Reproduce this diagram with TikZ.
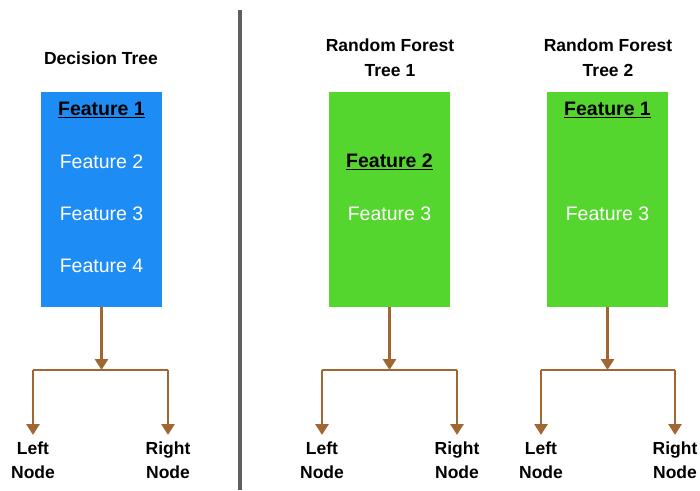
\documentclass[tikz,border=0pt]{standalone}
\usepackage{fontspec}
\setmainfont{Liberation Sans}
\usetikzlibrary{arrows.meta}
\definecolor{dtblue}{RGB}{30,140,245}
\definecolor{rfgreen}{RGB}{85,214,46}
\definecolor{branch}{RGB}{160,103,50}
\definecolor{divgray}{RGB}{95,95,95}
\tikzset{
  title/.style={font=\bfseries\fontsize{17.5}{25}\selectfont, align=center, inner sep=0pt},
  dtbox/.style={fill=dtblue, minimum width=121pt, minimum height=215pt, inner sep=0pt},
  rfbox/.style={fill=rfgreen, minimum width=121pt, minimum height=215pt, inner sep=0pt},
  feat/.style={text=white, font=\fontsize{19.5}{22}\selectfont, inner sep=0pt},
  featsel/.style={text=black, font=\bfseries\fontsize{19.5}{22}\selectfont, inner sep=0pt},
  leaf/.style={font=\bfseries\fontsize{17.5}{24}\selectfont, align=center, anchor=north, inner sep=0pt},
  conn/.style={draw=branch, line width=2.8pt},
  arr/.style={conn, -{Triangle[length=11pt,width=13pt]}},
  divider/.style={draw=divgray, line width=3.5pt}
}
\newcommand{\featul}[1]{\underline{#1}}
\begin{document}
\begin{tikzpicture}[x=1pt, y=-1pt]
  \useasboundingbox (0,0) rectangle (700,490);

  % separator between the single tree and the forest
  \draw[divider] (240,10) -- (240,490);

  % ---- Decision tree ----
  \node[title] (dtt) at (101,58) {Decision Tree};
  \node[dtbox] (dt) at (101.5,199.5) {};
  \node[featsel] (dtf1) at (101.5,110) {\featul{Feature 1}};
  \node[feat] (dtf2) at (101.5,162) {Feature 2};
  \node[feat] (dtf3) at (101.5,214) {Feature 3};
  \node[feat] (dtf4) at (101.5,266) {Feature 4};
  \coordinate (dtj) at (101.5,370);
  \coordinate (dtl) at (33,370);
  \coordinate (dtr) at (168,370);
  \node[leaf] (dtln) at (33,442) {Left\\Node};
  \node[leaf] (dtrn) at (168,442) {Right\\Node};
  \draw[arr] (dt.south) -- (dtj);
  \draw[conn] (dtl) -- (dtr);
  \draw[arr] (dtl) -- ([yshift=7pt]dtln.north);
  \draw[arr] (dtr) -- ([yshift=7pt]dtrn.north);

  % ---- Random forest, tree 1 ----
  \node[title] (rt1) at (390,57.5) {Random Forest\\Tree 1};
  \node[rfbox] (rf1) at (389.5,199.5) {};
  \node[featsel] (rf1f2) at (389.5,162) {\featul{Feature 2}};
  \node[feat] (rf1f3) at (389.5,214) {Feature 3};
  \coordinate (rf1j) at (389.5,370);
  \coordinate (rf1l) at (322,370);
  \coordinate (rf1r) at (457,370);
  \node[leaf] (rf1ln) at (322,442) {Left\\Node};
  \node[leaf] (rf1rn) at (457,442) {Right\\Node};
  \draw[arr] (rf1.south) -- (rf1j);
  \draw[conn] (rf1l) -- (rf1r);
  \draw[arr] (rf1l) -- ([yshift=7pt]rf1ln.north);
  \draw[arr] (rf1r) -- ([yshift=7pt]rf1rn.north);

  % ---- Random forest, tree 2 ----
  \node[title] (rt2) at (608,57.5) {Random Forest\\Tree 2};
  \node[rfbox] (rf2) at (607.5,199.5) {};
  \node[featsel] (rf2f1) at (607.5,110) {\featul{Feature 1}};
  \node[feat] (rf2f3) at (607.5,214) {Feature 3};
  \coordinate (rf2j) at (607.5,370);
  \coordinate (rf2l) at (541,370);
  \coordinate (rf2r) at (675,370);
  \node[leaf] (rf2ln) at (541,442) {Left\\Node};
  \node[leaf] (rf2rn) at (675,442) {Right\\Node};
  \draw[arr] (rf2.south) -- (rf2j);
  \draw[conn] (rf2l) -- (rf2r);
  \draw[arr] (rf2l) -- ([yshift=7pt]rf2ln.north);
  \draw[arr] (rf2r) -- ([yshift=7pt]rf2rn.north);
\end{tikzpicture}
\end{document}
